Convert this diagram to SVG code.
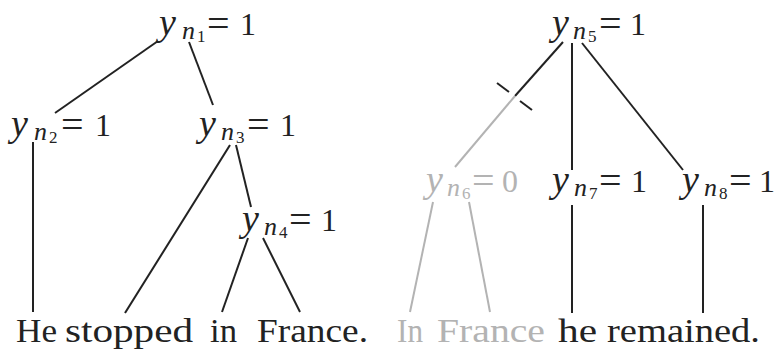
<svg xmlns="http://www.w3.org/2000/svg" width="775" height="353" viewBox="0 0 775 353">
<rect width="775" height="353" fill="#fff"/>
<g id="connectors" stroke="#222" stroke-width="2">
<line x1="158" y1="41" x2="55" y2="113"/>
<line x1="189" y1="42" x2="213" y2="105"/>
<line x1="33" y1="142" x2="33" y2="312"/>
<line x1="230" y1="145" x2="125" y2="313"/>
<line x1="236" y1="145" x2="251" y2="207"/>
<line x1="248" y1="238" x2="222" y2="312"/>
<line x1="263" y1="238" x2="300" y2="312"/>
<line x1="563" y1="42" x2="515" y2="96"/>
<line stroke="#b3b3b3" x1="515" y1="96" x2="455" y2="167"/>
<line x1="497" y1="83" x2="509" y2="92"/>
<line x1="520" y1="101" x2="532" y2="110"/>
<line x1="572" y1="43" x2="572" y2="170"/>
<line x1="582" y1="43" x2="683" y2="170"/>
<line stroke="#b3b3b3" x1="433" y1="202" x2="410" y2="312"/>
<line stroke="#b3b3b3" x1="469" y1="202" x2="490" y2="312"/>
<line x1="572" y1="205" x2="572" y2="313"/>
<line x1="703" y1="205" x2="703" y2="313"/>
</g>
<g id="n1"><text font-family="Liberation Serif" fill="#222"><tspan font-style="italic" font-size="38" x="159" y="35">y</tspan><tspan font-style="italic" font-size="26" x="182" y="39">n</tspan><tspan font-size="17" x="197" y="42">1</tspan><tspan font-size="40" x="207" y="37">=</tspan><tspan font-size="32" x="240" y="35">1</tspan></text></g>
<g id="n2"><text font-family="Liberation Serif" fill="#222"><tspan font-style="italic" font-size="38" x="11" y="136">y</tspan><tspan font-style="italic" font-size="26" x="34" y="140">n</tspan><tspan font-size="17" x="49" y="143">2</tspan><tspan font-size="40" x="61" y="138">=</tspan><tspan font-size="32" x="95" y="136">1</tspan></text></g>
<g id="n3"><text font-family="Liberation Serif" fill="#222"><tspan font-style="italic" font-size="38" x="199" y="136">y</tspan><tspan font-style="italic" font-size="26" x="221" y="140">n</tspan><tspan font-size="17" x="236" y="143">3</tspan><tspan font-size="40" x="247" y="138">=</tspan><tspan font-size="32" x="280" y="136">1</tspan></text></g>
<g id="n4"><text font-family="Liberation Serif" fill="#222"><tspan font-style="italic" font-size="38" x="242" y="231">y</tspan><tspan font-style="italic" font-size="26" x="264" y="235">n</tspan><tspan font-size="17" x="279" y="238">4</tspan><tspan font-size="40" x="289" y="233">=</tspan><tspan font-size="32" x="321" y="231">1</tspan></text></g>
<g id="n5"><text font-family="Liberation Serif" fill="#222"><tspan font-style="italic" font-size="38" x="552" y="35">y</tspan><tspan font-style="italic" font-size="26" x="573" y="39">n</tspan><tspan font-size="17" x="588" y="42">5</tspan><tspan font-size="40" x="599" y="37">=</tspan><tspan font-size="32" x="630" y="35">1</tspan></text></g>
<g id="n6"><text font-family="Liberation Serif" fill="#b3b3b3"><tspan font-style="italic" font-size="38" x="426" y="192">y</tspan><tspan font-style="italic" font-size="26" x="447" y="196">n</tspan><tspan font-size="17" x="462" y="199">6</tspan><tspan font-size="40" x="472" y="194">=</tspan><tspan font-size="32" x="502" y="192">0</tspan></text></g>
<g id="n7"><text font-family="Liberation Serif" fill="#222"><tspan font-style="italic" font-size="38" x="552" y="192">y</tspan><tspan font-style="italic" font-size="26" x="574" y="196">n</tspan><tspan font-size="17" x="589" y="199">7</tspan><tspan font-size="40" x="599" y="194">=</tspan><tspan font-size="32" x="631" y="192">1</tspan></text></g>
<g id="n8"><text font-family="Liberation Serif" fill="#222"><tspan font-style="italic" font-size="38" x="682" y="192">y</tspan><tspan font-style="italic" font-size="26" x="704" y="196">n</tspan><tspan font-size="17" x="719" y="199">8</tspan><tspan font-size="40" x="729" y="194">=</tspan><tspan font-size="32" x="759" y="192">1</tspan></text></g>
<g id="sentence1" font-family="Liberation Serif" font-size="33" fill="#222">
<text font-family="Liberation Serif" x="16" y="342" textLength="41" lengthAdjust="spacingAndGlyphs">He</text>
<text font-family="Liberation Serif" x="65" y="342" textLength="128" lengthAdjust="spacingAndGlyphs">stopped</text>
<text font-family="Liberation Serif" x="210" y="342" textLength="27" lengthAdjust="spacingAndGlyphs">in</text>
<text font-family="Liberation Serif" x="257" y="342" textLength="111" lengthAdjust="spacingAndGlyphs">France.</text>
</g>
<g id="sentence2" font-family="Liberation Serif" font-size="33" fill="#222">
<text font-family="Liberation Serif" fill="#b3b3b3" x="397" y="342" textLength="26" lengthAdjust="spacingAndGlyphs">In</text>
<text font-family="Liberation Serif" fill="#b3b3b3" x="437" y="342" textLength="108" lengthAdjust="spacingAndGlyphs">France</text>
<text font-family="Liberation Serif" x="558" y="342" textLength="39" lengthAdjust="spacingAndGlyphs">he</text>
<text font-family="Liberation Serif" x="607" y="342" textLength="153" lengthAdjust="spacingAndGlyphs">remained.</text>
</g>
</svg>
